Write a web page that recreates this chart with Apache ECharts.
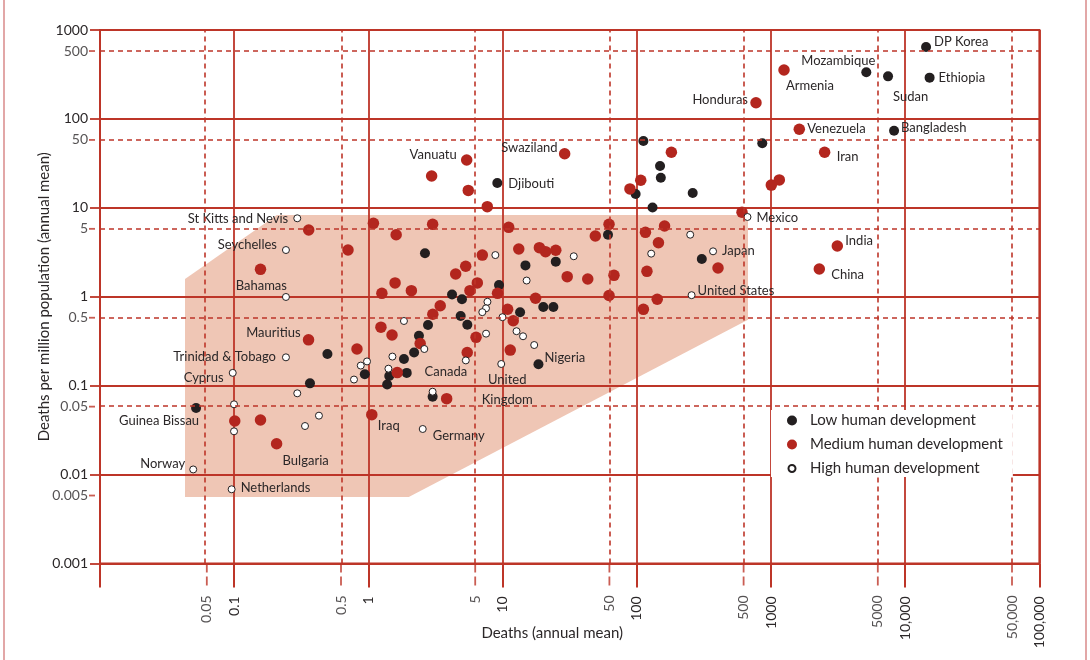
<!DOCTYPE html>
<html><head><meta charset="utf-8">
<script src="https://cdn.jsdelivr.net/npm/echarts@6/dist/echarts.min.js"></script>
<style>html,body{margin:0;padding:0;background:#fff}#chart{width:1090px;height:660px}</style>
</head><body><div id="chart"></div>
<script>
// ---------- data ----------
const lowNames = ['Guinea Bissau','','','','','','','','','','','','','','','','','','','','Nigeria','','','','Djibouti','','','','','','','','','','Mozambique','Sudan','DP Korea','Ethiopia','Bangladesh'];
const lowX = [0.052,0.367,0.495,0.94,1.38,1.43,1.93,1.84,2.19,2.38,2.78,2.64,3.01,4.2,4.98,4.87,5.46,9.4,13.5,14.8,18.5,20.1,23.9,24.9,9.13,61,112,149,151,98,131,261,305,861,5130,7450,14300,15200,8260];
const lowY = [0.056,0.106,0.227,0.134,0.103,0.128,0.139,0.199,0.236,0.364,0.481,3.08,0.075,1.06,0.935,0.607,0.484,1.35,0.668,2.25,0.174,0.766,0.766,2.48,19.0,4.98,56.4,29.5,21.8,14.3,10.1,14.7,2.65,53.2,334,301,644,291,73.7];

const medNames = ['Honduras','Armenia','Venezuela','Iran','','','','India','China','Vanuatu','','','','Swaziland','','','','','','','','','','','','','','','Mauritius','','','','','','','','','','','','','','','','','','','','','','','','','','','','','','','','','','','','','Iraq','','','Bulgaria'];
const medX = [773,1250,1625,2510,1153,1005,608,3120,2290,5.4,2.96,5.55,7.69,29.0,181,107,88.9,0.359,0.157,1.09,1.61,0.705,1.58,1.26,2.09,1.24,1.5,2.43,0.358,0.822,1.64,3.01,11.1,62.1,49.1,116,161,145,403,119,67.6,43.1,30.3,24.9,20.9,18.8,13.2,7.06,5.31,4.47,6.48,9.17,5.71,3.43,3.02,10.9,12.0,17.6,62.1,142,112,6.34,5.45,11.4,3.83,1.06,0.101,0.157,0.207];
const medY = [152,355,76.4,42.1,20.6,18.0,8.9,3.72,2.05,34.5,22.8,15.7,10.3,40.6,42.1,20.4,16.3,5.62,2.03,6.69,4.98,3.35,1.43,1.09,1.17,0.454,0.371,0.298,0.327,0.258,0.14,6.52,6.03,6.52,4.82,5.3,6.24,4.05,2.1,1.93,1.74,1.58,1.68,3.33,3.21,3.56,3.44,2.94,2.2,1.8,1.43,1.09,1.17,0.792,0.634,0.723,0.536,0.962,1.03,0.935,0.721,0.349,0.236,0.251,0.0713,0.0471,0.04,0.041,0.0222];

const highNames = ['St Kitts and Nevis','Seychelles','Bahamas','Trinidad & Tobago','Cyprus','','','','','','Norway','Netherlands','','','','','','','','Canada','Germany','','','','','','','United Kingdom','','','','','','','','','Japan','United States','Mexico'];
const highX = [0.295,0.243,0.243,0.243,0.0975,0.295,0.0997,0.0997,0.337,0.428,0.0495,0.0957,0.781,0.877,0.977,1.41,1.51,1.84,2.61,3.01,2.54,5.32,7.53,7.71,7.52,7.06,9.98,9.77,12.7,14.2,17.2,15.1,8.83,33.9,128,250,370,256,668];
const highY = [7.62,3.35,0.993,0.208,0.139,0.0819,0.0616,0.0306,0.0351,0.0459,0.0114,0.00682,0.117,0.168,0.187,0.155,0.212,0.533,0.258,0.0854,0.0325,0.192,0.384,0.877,0.74,0.67,0.588,0.175,0.409,0.359,0.286,1.52,2.94,2.85,3.05,4.98,3.24,1.04,7.88];

// shaded envelope (data coordinates)
const envX = [0.043, 0.208, 674, 674, 2.0, 0.043];
const envY = [1.58, 8.3, 8.3, 0.55, 0.00558, 0.00558];

// tick labels
const xDecadeLabels = ['', '0.1', '1', '10', '100', '1000', '10,000', '100,000']; // 10^-2 .. 10^5
const yDecadeLabels = ['0.001', '0.01', '0.1', '1', '10', '100', '1000'];           // 10^-3 .. 10^3
const xMinorTicks = [0.0625, 0.625, 6.25, 62.5, 625, 6250, 62500];
const xMinorLabels = ['0.05', '0.5', '5', '50', '500', '5000', '50,000'];
const yMinorTicks = [0.0058, 0.058, 0.58, 5.8, 58, 580];
const yMinorLabels = ['0.005', '0.05', '0.5', '5', '50', '500'];

const seriesNames = ['Low human development', 'Medium human development', 'High human development'];

// ---------- styles ----------
const FONT = 'Lato';
const TXT = '#2b2728';
const GRID_RED = '#bd3528';
const DOT_RED = '#b3261e';
const DOT_BLACK = '#231f20';

// label placement: [align, dx, dy, verticalAlign]
const labelPlace = {
  'Honduras': ['right', -8, -3], 'Armenia': ['left', 2, 16], 'Mozambique': ['right', 9, -12],
  'Sudan': ['left', 5, 20], 'DP Korea': ['left', 8, -5], 'Ethiopia': ['left', 9, 0],
  'Venezuela': ['left', 8, 0], 'Bangladesh': ['left', 7, -3], 'Iran': ['left', 12, 5],
  'Vanuatu': ['right', -10, -5], 'Swaziland': ['right', -7, -6], 'Djibouti': ['left', 11, 1],
  'Mexico': ['left', 9, 1], 'Japan': ['left', 9, -1], 'United States': ['left', 6, -4],
  'India': ['left', 8, -5], 'China': ['left', 12, 6], 'St Kitts and Nevis': ['right', -9, 1],
  'Seychelles': ['right', -9, -5], 'Bahamas': ['right', 1, -11], 'Mauritius': ['right', -8, -7],
  'Trinidad & Tobago': ['right', -10, -1], 'Cyprus': ['right', -9, 5], 'Guinea Bissau': ['right', 3, 13],
  'Norway': ['right', -8, -6], 'Netherlands': ['left', 9, -1], 'Bulgaria': ['left', 6, 17],
  'Iraq': ['left', 6, 11], 'Canada': ['left', -8, -20], 'United Kingdom': ['center', 6, 6, 'top'],
  'Germany': ['left', 10, 7], 'Nigeria': ['left', 6, -6]
};

function buildData(names, xs, ys) {
  return xs.map((x, i) => {
    const item = { value: [x, ys[i]], name: names[i] || '' };
    const p = labelPlace[names[i]];
    if (p) {
      item.label = {
        show: true, position: 'inside', align: p[0], verticalAlign: p[3] || 'middle',
        offset: [p[1], p[2]], color: TXT, fontFamily: FONT, fontSize: 13, lineHeight: 20,
        formatter: names[i] === 'United Kingdom' ? 'United\nKingdom' : names[i]
      };
    }
    return item;
  });
}

const chart = echarts.init(document.getElementById('chart'), null, { renderer: 'canvas' });

const option = {
  animation: false,
  backgroundColor: '#fff',
  textStyle: { fontFamily: FONT, color: TXT },
  graphic: [{
    type: 'rect', silent: true, z: 0,
    shape: { x: 4, y: -10, width: 1082, height: 690 },
    style: { fill: null, stroke: '#d98a8a', lineWidth: 1.5 }
  }],
  grid: {
    show: true, borderColor: GRID_RED, borderWidth: 2, backgroundColor: 'transparent',
    left: 100, right: 50.6, top: 30, bottom: 96.6,
    containLabel: false, outerBoundsMode: 'none'
  },
  legend: {
    data: [
      { name: seriesNames[0], icon: 'circle' },
      { name: seriesNames[1], icon: 'circle' },
      { name: seriesNames[2], icon: 'path://M0,0M20,20M10,3A7,7,0,1,1,9.99,3Z' }
    ],
    orient: 'vertical', left: 771, top: 410, z: 20,
    backgroundColor: '#fff', padding: [3, 10, 1, 15], itemGap: 9,
    itemWidth: 26, itemHeight: 10, selectedMode: false,
    textStyle: { fontFamily: FONT, fontSize: 15, color: TXT }
  },
  xAxis: {
    type: 'log', logBase: 10, min: 0.01, max: 100000, splitNumber: 7,
    name: 'Deaths (annual mean)', nameLocation: 'middle', nameGap: 62, nameMoveOverlap: false,
    nameTextStyle: { fontFamily: FONT, fontSize: 15, color: TXT, padding: [0, 35, 0, 0] },
    axisLine: { show: true, lineStyle: { color: GRID_RED, width: 2 } },
    axisTick: { show: true, inside: false, length: 24, lineStyle: { color: GRID_RED, width: 2 } },
    axisLabel: {
      rotate: 90, margin: 33, fontFamily: FONT, fontSize: 14, color: TXT,
      formatter: v => { const e = Math.round(Math.log10(v)); return xDecadeLabels[e + 2] || ''; }
    },
    splitLine: { show: true, lineStyle: { color: GRID_RED, width: 1.8 } }
  },
  yAxis: {
    type: 'log', logBase: 10, min: 0.001, max: 1000, splitNumber: 6,
    name: 'Deaths per million population (annual mean)', nameLocation: 'middle', nameGap: 48, nameMoveOverlap: false,
    nameTextStyle: { fontFamily: FONT, fontSize: 15, color: TXT },
    axisLine: { show: true, lineStyle: { color: GRID_RED, width: 2 } },
    axisTick: { show: true, inside: false, length: 10, lineStyle: { color: GRID_RED, width: 1.8 } },
    axisLabel: {
      margin: 12, fontFamily: FONT, fontSize: 14, color: TXT,
      formatter: v => { const e = Math.round(Math.log10(v)); return yDecadeLabels[e + 3] || ''; }
    },
    splitLine: { show: true, lineStyle: { color: GRID_RED, width: 1.8 } }
  },
  series: [
    {
      type: 'custom', name: 'envelope', z: -1, silent: true,
      coordinateSystem: 'cartesian2d',
      data: envX.map((x, i) => [x, envY[i]]),
      renderItem: (params, api) => {
        if (params.dataIndex !== 0) return null;
        const pts = envX.map((x, i) => api.coord([x, envY[i]]));
        return { type: 'polygon', shape: { points: pts }, style: { fill: '#efc6b5' } };
      }
    },
    {
      type: 'scatter', name: 'xMinor', silent: true, clip: false, z: 3,
      data: xMinorTicks.map(v => [v, 0.001]),
      symbol: 'path://M0,0L2,0L2,9L0,9Z M0,13L2,13L2,22L0,22Z',
      symbolSize: [1.8, 22], symbolOffset: [0, 11], symbolKeepAspect: false,
      itemStyle: { color: GRID_RED },
      label: {
        show: true, position: 'bottom', distance: 10, rotate: 90, align: 'right', verticalAlign: 'middle',
        fontFamily: FONT, fontSize: 14, color: TXT,
        formatter: p => xMinorLabels[p.dataIndex]
      },
      markLine: {
        silent: true, symbol: ['none', 'none'], animation: false,
        label: { show: false },
        lineStyle: { color: GRID_RED, width: 1.6, type: [5, 4] },
        data: xMinorTicks.map(v => ({ xAxis: v }))
      }
    },
    {
      type: 'scatter', name: 'yMinor', silent: true, clip: false, z: 3,
      data: yMinorTicks.map(v => [0.01, v]),
      symbol: 'rect', symbolSize: [6, 1.8], symbolOffset: [-8, 0],
      itemStyle: { color: GRID_RED },
      label: {
        show: true, position: 'left', distance: 1, fontFamily: FONT, fontSize: 14, color: TXT,
        formatter: p => yMinorLabels[p.dataIndex]
      },
      markLine: {
        silent: true, symbol: ['none', 'none'], animation: false,
        label: { show: false },
        lineStyle: { color: GRID_RED, width: 1.6, type: [5, 4] },
        data: yMinorTicks.map(v => ({ yAxis: v }))
      }
    },
    {
      type: 'scatter', name: seriesNames[0], symbolSize: 10,
      itemStyle: { color: DOT_BLACK, opacity: 1 },
      data: buildData(lowNames, lowX, lowY)
    },
    {
      type: 'scatter', name: seriesNames[1], symbolSize: 11.5,
      itemStyle: { color: DOT_RED, opacity: 1 },
      data: buildData(medNames, medX, medY)
    },
    {
      type: 'scatter', name: seriesNames[2], symbolSize: 7,
      itemStyle: { color: '#ffffff', borderColor: DOT_BLACK, borderWidth: 1, opacity: 1 },
      data: buildData(highNames, highX, highY)
    }
  ]
};
chart.setOption(option);
</script>
</body></html>
